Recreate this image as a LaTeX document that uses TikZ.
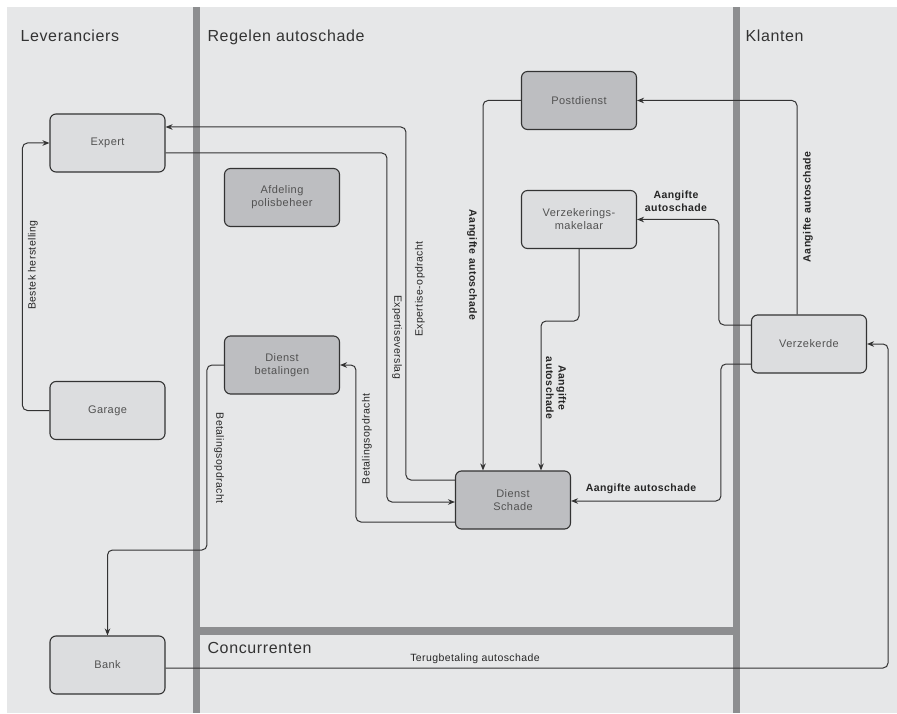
\documentclass[tikz,border=0pt]{standalone}
\usepackage{fontspec}
\setmainfont[LetterSpace=4]{Liberation Sans}
\usetikzlibrary{arrows.meta}

\definecolor{lanebg}{HTML}{E6E7E8}
\definecolor{lanebar}{HTML}{8D8E90}
\definecolor{boxlight}{HTML}{DCDDDF}
\definecolor{boxdark}{HTML}{BDBEC1}
\definecolor{ink}{HTML}{333333}

\tikzset{
  box/.style={draw=ink, line width=1.1pt, rounded corners=6pt,
              minimum width=115pt, minimum height=58pt, inner sep=0pt,
              align=center, text=ink!85, font=\fontsize{11}{13}\selectfont},
  light/.style={box, fill=boxlight},
  dark/.style={box, fill=boxdark},
  flow/.style={draw=ink, line width=1pt, rounded corners=5pt,
               -{Stealth[length=7pt,width=5.5pt]}},
  lbl/.style={font=\fontsize{10.5}{12.5}\selectfont, text=black!85, inner sep=1pt},
  blbl/.style={lbl, font=\fontsize{10.5}{12.5}\bfseries},
  lane/.style={font=\fontsize{16}{18}\selectfont, text=ink, anchor=base west},
}

\begin{document}
\begin{tikzpicture}[x=1pt, y=-1pt]
    % Background and lanes
    \useasboundingbox (0,0) rectangle (897,714);
    \fill[lanebg] (7,7) rectangle (897,713);
    \fill[lanebar] (193,7) rectangle (200,713);
    \fill[lanebar] (733,7) rectangle (740,713);
    \fill[lanebar] (200,627) rectangle (733,635);

    % Lane titles
    \node[lane] (t-lev) at (17,42) {Leveranciers};
    \node[lane] (t-reg) at (204,42) {Regelen autoschade};
    \node[lane] (t-kla) at (742,42) {Klanten};
    \node[lane] (t-con) at (204,653) {Concurrenten};

    % Boxes
    \node[light] (expert) at (107.5,143) {Expert};
    \node[light] (garage) at (107.5,410.5) {Garage};
    \node[light] (bank) at (107.5,665) {Bank};
    \node[dark] (afdeling) at (282,197.5) {Afdeling\\polisbeheer};
    \node[dark] (betalingen) at (282,365) {Dienst\\betalingen};
    \node[dark] (postdienst) at (579,100.5) {Postdienst};
    \node[light] (makelaar) at (579,219.5) {Verzekerings-\\makelaar};
    \node[dark] (schade) at (513,500) {Dienst\\Schade};
    \node[light] (verzekerde) at (809,344) {Verzekerde};

    % Connectors
    \draw[flow] (garage.west) -- ++(-27,0) |- (expert.west);
    \draw[flow] ([yshift=20pt]schade.west) -- ++(-49,0) |- ([yshift=16pt]expert.east);
    \draw[flow] ([yshift=-10pt]expert.east) -| ([xshift=-68pt,yshift=-2pt]schade.west) -- ([yshift=-2pt]schade.west);
    \draw[flow] ([yshift=-22pt]schade.west) -- ++(-99,0) |- (betalingen.east);
    \draw[flow] (betalingen.west) -- ++(-17,0) -- ++(0,185) -| (bank.north);
    \draw[flow] (postdienst.west) -| ([xshift=-30pt]schade.north);
    \draw[flow] (makelaar.south) -- ++(0,72) -| ([xshift=28pt]schade.north);
    \draw[flow] ([xshift=-12pt]verzekerde.north) |- (postdienst.east);
    \draw[flow] ([yshift=19pt]verzekerde.west) -- ++(-32,0) |- (makelaar.east);
    \draw[flow] ([yshift=-20pt]verzekerde.west) -- ++(-30,0) |- ([yshift=-1pt]schade.east);
    \draw[flow] ([yshift=-3pt]bank.east) -| ([xshift=21pt]verzekerde.east) -- (verzekerde.east);

    % Labels
    \node[lbl, rotate=90] (l-bestek) at (33,265) {Bestek herstelling};
    \node[lbl, rotate=90] (l-opdracht) at (420,289) {Expertise-opdracht};
    \node[lbl, rotate=-90] (l-verslag) at (397,337) {Expertiseverslag};
    \node[lbl, rotate=90] (l-betaal1) at (367,439) {Betalingsopdracht};
    \node[lbl, rotate=-90] (l-betaal2) at (219,458) {Betalingsopdracht};
    \node[blbl, rotate=-90] (l-post) at (472,265) {Aangifte autoschade};
    \node[blbl, rotate=-90, align=center] (l-makel) at (556,388) {Aangifte\\autoschade};
    \node[blbl, rotate=90] (l-klant) at (808,207) {Aangifte autoschade};
    \node[blbl, align=center] (l-verz1) at (676,201) {Aangifte\\autoschade};
    \node[blbl] (l-verz2) at (641,489) {Aangifte autoschade};
    \node[lbl] (l-terug) at (475,659) {Terugbetaling autoschade};
\end{tikzpicture}
\end{document}
